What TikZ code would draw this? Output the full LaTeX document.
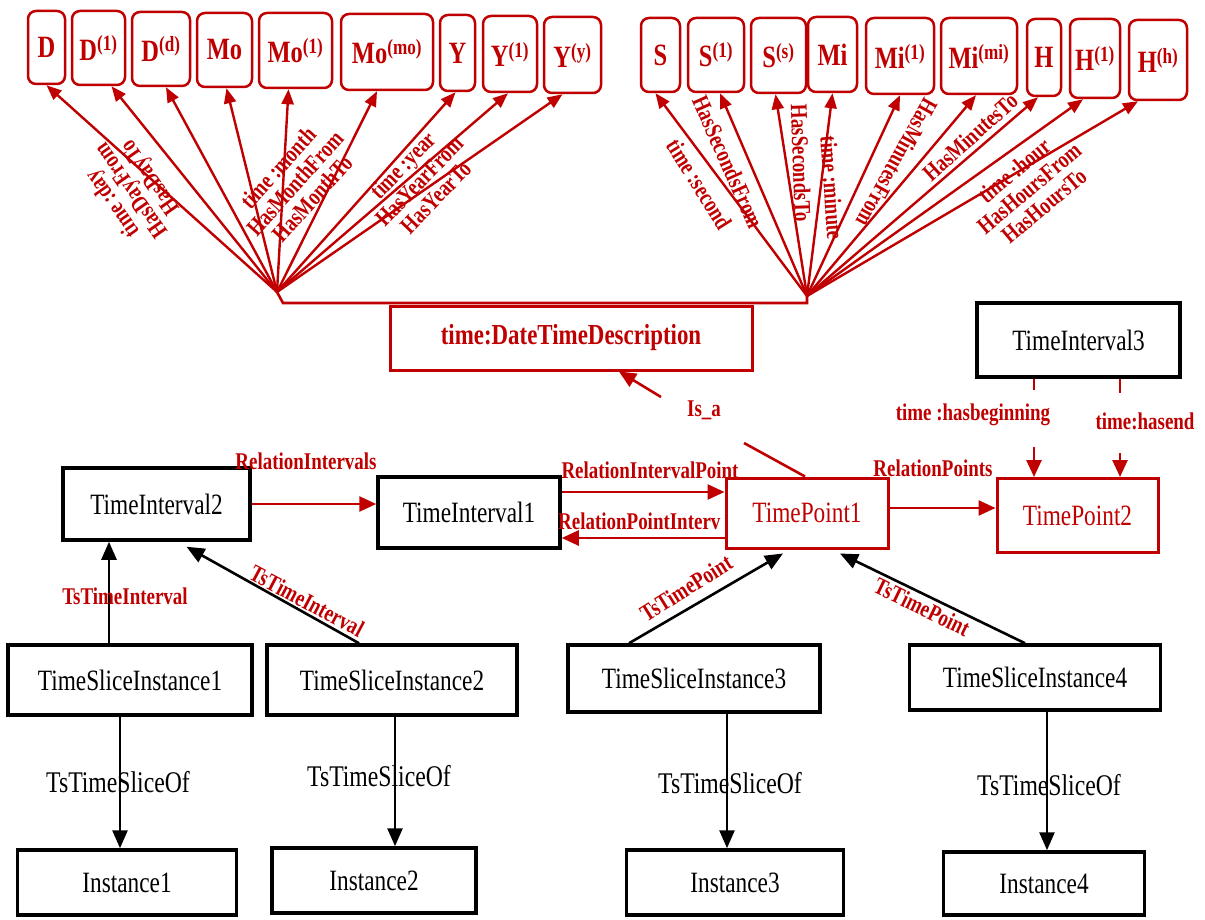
\documentclass[tikz,border=0pt]{standalone}
\usepackage{fontspec}
\setmainfont{Liberation Serif}[FakeStretch=0.79]
\usetikzlibrary{arrows.meta}
\definecolor{myred}{RGB}{192,0,0}
\begin{document}
\begin{tikzpicture}[x=1pt,y=-1pt,
  tb/.style={draw=myred, line width=2.5pt, rounded corners=8pt, text=myred,
    font=\bfseries\fontsize{31}{34}\selectfont, inner sep=0pt},
  bbox/.style={draw=black, line width=3.5pt, text=black,
    font=\fontsize{29.5}{32}\selectfont, inner sep=0pt},
  rbox/.style={draw=myred, line width=3pt, text=myred, fill=white,
    font=\fontsize{29.5}{32}\selectfont, inner sep=0pt},
  rlab/.style={text=myred, font=\bfseries\fontsize{24}{23}\selectfont, inner sep=0pt, align=center},
  blab/.style={text=black, font=\fontsize{30}{32}\selectfont, inner sep=0pt},
  fan/.style={draw=myred, line width=2.4pt, -{Triangle[length=15pt,width=12pt]}},
  rline/.style={draw=myred, line width=2.6pt},
  rarrow/.style={draw=myred, line width=2.6pt, -{Triangle[length=17pt,width=15pt]}},
  barrow/.style={draw=black, line width=2.6pt, -{Triangle[length=18pt,width=15pt]}}
]
\useasboundingbox (0,0) rectangle (1205,920);

% ---------- top left boxes ----------
\node[tb, minimum width=37pt, minimum height=73pt] (D)    at (46.5,47.5) {D};
\node[tb, minimum width=53pt, minimum height=74pt] (D1)   at (98.5,48)   {D\textsuperscript{(1)}};
\node[tb, minimum width=58pt, minimum height=74pt] (Dd)   at (161,49)    {D\textsuperscript{(d)}};
\node[tb, minimum width=55pt, minimum height=74pt] (Mo)   at (224.5,50)  {Mo};
\node[tb, minimum width=73pt, minimum height=75pt] (Mo1)  at (295.5,50.5){Mo\textsuperscript{(1)}};
\node[tb, minimum width=92pt, minimum height=76pt] (Momo) at (387,52)    {Mo\textsuperscript{(mo)}};
\node[tb, minimum width=35pt, minimum height=76pt] (Y)    at (457.5,53)  {Y};
\node[tb, minimum width=54pt, minimum height=76pt] (Y1)   at (510,54)    {Y\textsuperscript{(1)}};
\node[tb, minimum width=57pt, minimum height=76pt] (Yy)   at (572.5,55)  {Y\textsuperscript{(y)}};

% ---------- top right boxes ----------
\node[tb, minimum width=39pt, minimum height=74pt] (S)    at (660.5,55)  {S};
\node[tb, minimum width=56pt, minimum height=74pt] (S1)   at (716,55)    {S\textsuperscript{(1)}};
\node[tb, minimum width=55pt, minimum height=75pt] (Ss)   at (778.5,55.5){S\textsuperscript{(s)}};
\node[tb, minimum width=49pt, minimum height=75pt] (Mi)   at (832.5,54.5){Mi};
\node[tb, minimum width=68pt, minimum height=76pt] (Mi1)  at (900,56)    {Mi\textsuperscript{(1)}};
\node[tb, minimum width=76pt, minimum height=76pt] (Mimi) at (979,56)    {Mi\textsuperscript{(mi)}};
\node[tb, minimum width=34pt, minimum height=77pt] (H)    at (1044,57.5) {H};
\node[tb, minimum width=50pt, minimum height=79pt] (H1)   at (1095,58.5) {H\textsuperscript{(1)}};
\node[tb, minimum width=58pt, minimum height=80pt] (Hh)   at (1158,60)   {H\textsuperscript{(h)}};

% ---------- main boxes ----------
\node[rbox, font=\bfseries\fontsize{29}{32}\selectfont, minimum width=362pt, minimum height=64pt] (DTD) at (571,338) {time:DateTimeDescription};
\node[bbox, minimum width=203pt, minimum height=74pt] (TI3) at (1078.5,340) {TimeInterval3};
\node[bbox, minimum width=187pt, minimum height=72pt] (TI2) at (156.5,504) {TimeInterval2};
\node[bbox, minimum width=182pt, minimum height=71pt] (TI1) at (469,512.5) {TimeInterval1};
\node[rbox, minimum width=162pt, minimum height=70pt] (TP1) at (807,513) {TimePoint1};
\node[rbox, minimum width=161pt, minimum height=74pt] (TP2) at (1077.5,515.5) {TimePoint2};

\node[bbox, minimum width=244pt, minimum height=70pt] (TSI1) at (130,680) {TimeSliceInstance1};
\node[bbox, minimum width=250pt, minimum height=70pt] (TSI2) at (392,680) {TimeSliceInstance2};
\node[bbox, minimum width=252pt, minimum height=67pt] (TSI3) at (694,678.5) {TimeSliceInstance3};
\node[bbox, minimum width=251pt, minimum height=65pt] (TSI4) at (1035,677.5) {TimeSliceInstance4};
\node[bbox, minimum width=219pt, minimum height=65pt] (In1) at (127,882.5) {Instance1};
\node[bbox, minimum width=204pt, minimum height=65pt] (In2) at (374,880.5) {Instance2};
\node[bbox, minimum width=217pt, minimum height=65pt] (In3) at (735,882.5) {Instance3};
\node[bbox, minimum width=201pt, minimum height=63pt] (In4) at (1044,883.5) {Instance4};

% ---------- hubs ----------
\coordinate (hubL) at (277,292);
\coordinate (hubL2) at (283,303);
\coordinate (hubR2) at (807,303);
\coordinate (hubR) at (807,296);
\draw[rline] (hubL) -- (hubL2) -- (hubR2) -- (hubR);

% fan arrows left
\draw[fan] (hubL) -- ([xshift=0pt]D.south);
\draw[fan] (hubL) -- ([xshift=13pt]D1.south);
\draw[fan] (hubL) -- ([xshift=5pt]Dd.south);
\draw[fan] (hubL) -- ([xshift=2pt]Mo.south);
\draw[fan] (hubL) -- ([xshift=-7pt]Mo1.south);
\draw[fan] (hubL) -- ([xshift=-10pt]Momo.south);
\draw[fan] (hubL) -- ([xshift=-2pt]Y.south);
\draw[fan] (hubL) -- ([xshift=-2pt]Y1.south);
\draw[fan] (hubL) -- ([xshift=-10pt]Yy.south);
% fan arrows right
\draw[fan] (hubR) -- ([xshift=-5pt]S.south);
\draw[fan] (hubR) -- ([xshift=4pt]S1.south);
\draw[fan] (hubR) -- ([xshift=-3pt]Ss.south);
\draw[fan] (hubR) -- ([xshift=0pt]Mi.south);
\draw[fan] (hubR) -- ([xshift=0pt]Mi1.south);
\draw[fan] (hubR) -- ([xshift=-3pt]Mimi.south);
\draw[fan] (hubR) -- ([xshift=-6pt]H.south);
\draw[fan] (hubR) -- ([xshift=-12pt]H1.south);
\draw[fan] (hubR) -- ([xshift=-20pt]Hh.south);

% fan labels
\node[rlab, rotate=125] (lday) at (132,190) {time :day\\HasDayFrom\\HasDayTo};
\node[rlab, rotate=48] (lmonth) at (295,183) {time :month\\HasMonthFrom\\HasMonthTo};
\node[rlab, rotate=46] (lyear) at (419,181) {time :year\\HasYearFrom\\HasYearTo};
\node[rlab, rotate=-58] (lsec) at (699,184) {time :second};
\begin{scope}
\clip (600,60) rectangle (860,232);
\node[rlab, rotate=-66, anchor=west] (lsecf) at (699,97) {HasSecondsFrom};
\node[rlab, rotate=-88, anchor=west] (lsect) at (799,104) {HasSecondsTo};
\end{scope}
\node[rlab, rotate=-86] (lmin) at (832,188) {time :minute};
\node[rlab, rotate=-119] (lminf) at (897,163) {HasMinutesFrom};
\node[rlab, rotate=42] (lmint) at (970,137) {HasMinutesTo};
\node[rlab, rotate=40] (lhour) at (1029,188) {time :hour\\HasHoursFrom\\HasHoursTo};

% ---------- Is_a ----------
\coordinate (isa1) at (744,443);
\coordinate (isa2) at (661,397);
\draw[rline] ([xshift=-2pt]TP1.north) -- (isa1);
\draw[rarrow] (isa2) -- ([xshift=48pt]DTD.south);
\node[rlab] (lisa) at (704,410) {Is\_a};

% ---------- relations ----------
\draw[rarrow] (TI2.east) -- (TI2.east -| TI1.west);
\node[rlab] (lri) at (306,461) {RelationIntervals};
\draw[rarrow] ([yshift=20.5pt]TI1.east) -- ([yshift=21pt]TP1.west);
\node[rlab] (lrip) at (650,470) {RelationIntervalPoint};
\draw[rarrow] ([yshift=-25pt]TP1.west) -- ([yshift=-25.5pt]TI1.east);
\node[rlab, anchor=west] (lrpi) at (558,521) {RelationPointInterv};
\draw[rarrow] ([yshift=5pt]TP1.east) -- ([yshift=7.5pt]TP2.west);
\node[rlab] (lrp) at (933,468) {RelationPoints};

% TimeInterval3 -> TimePoint2
\draw[rline] ([xshift=-44.5pt]TI3.south) -- ++(0,11);
\draw[rline] ([xshift=41.5pt]TI3.south) -- ++(0,14);
\coordinate (hb1) at (1034,447);
\coordinate (he1) at (1120,453);
\draw[rarrow] (hb1) -- (hb1 |- TP2.north);
\draw[rarrow] (he1) -- (he1 |- TP2.north);
\node[rlab] (lhb) at (973,415) {time :hasbeginning};
\node[rlab] (lhe) at (1145,421) {time:hasend};

% ---------- time slices ----------
\coordinate (c1) at (109,0);
\draw[barrow] (TSI1.north -| c1) -- (TI2.south -| c1);
\node[rlab] (lts1) at (125,596) {TsTimeInterval};
\draw[barrow] ([xshift=-33pt]TSI2.north) -- ([xshift=30pt,yshift=-5pt]TI2.south);
\node[rlab, rotate=-28] (lts2) at (307,601) {TsTimeInterval};
\draw[barrow] ([xshift=-65pt]TSI3.north) -- ([xshift=-24pt,yshift=-4pt]TP1.south);
\node[rlab, rotate=32] (lts3) at (686,588) {TsTimePoint};
\draw[barrow] ([xshift=-10pt]TSI4.north) -- ([xshift=33pt,yshift=-4pt]TP1.south);
\node[rlab, rotate=-26] (lts4) at (922,607) {TsTimePoint};

\coordinate (v1) at (120,0);
\coordinate (v2) at (395,0);
\coordinate (v3) at (727,0);
\coordinate (v4) at (1047,0);
\draw[barrow] (TSI1.south -| v1) -- (In1.north -| v1);
\draw[barrow] (TSI2.south -| v2) -- (In2.north -| v2);
\draw[barrow] (TSI3.south -| v3) -- (In3.north -| v3);
\draw[barrow] (TSI4.south -| v4) -- (In4.north -| v4);
\node[blab] (lo1) at (118,782) {TsTimeSliceOf};
\node[blab] (lo2) at (379,776) {TsTimeSliceOf};
\node[blab] (lo3) at (730,783) {TsTimeSliceOf};
\node[blab] (lo4) at (1049,785) {TsTimeSliceOf};
\end{tikzpicture}
\end{document}
